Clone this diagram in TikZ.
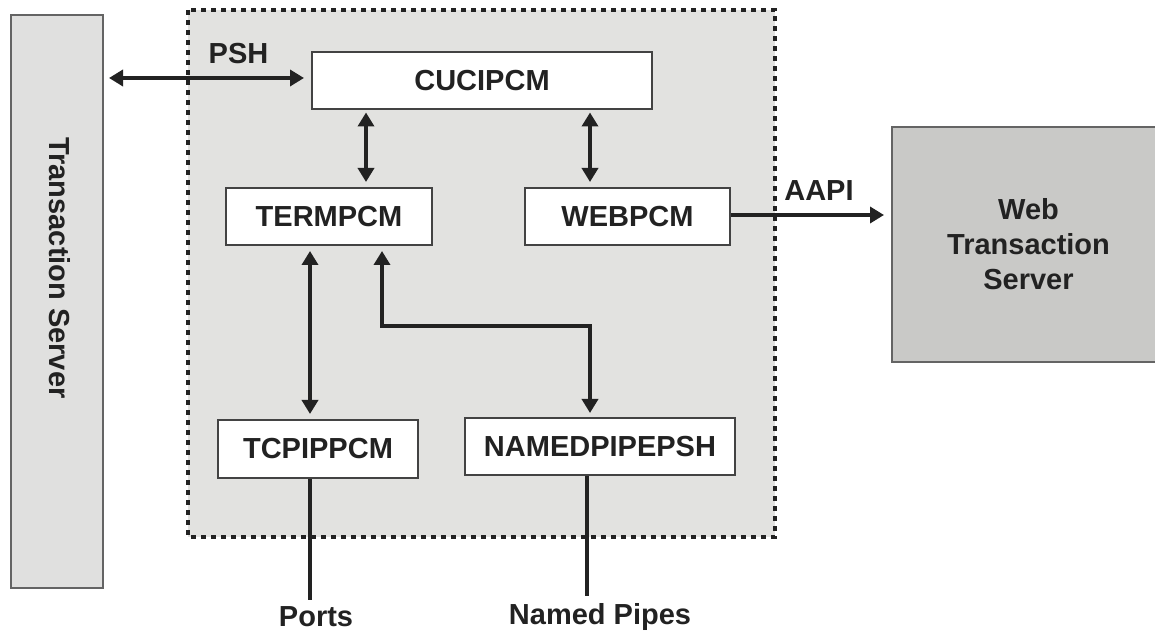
\documentclass[tikz,border=0pt]{standalone}
\usepackage{fontspec}
\setmainfont{Liberation Sans}
\usepackage{xcolor}
\usepackage{tikz}
\usetikzlibrary{positioning, arrows.meta, calc}
\definecolor{panel}{HTML}{E2E2E0}
\definecolor{server}{HTML}{E0E0DF}
\definecolor{webserver}{HTML}{C9C9C7}
\definecolor{ink}{HTML}{222222}

\begin{document}
\begin{tikzpicture}[x=0.5pt,y=-0.5pt,
  font=\bfseries\fontsize{14.5}{17.5}\selectfont, text=ink,
  module/.style={draw=ink!85,line width=1pt,fill=white,minimum height=28.5pt,
                 inner sep=0pt},
  host/.style={draw=ink!70,line width=1pt,align=center,inner sep=0pt},
  link/.style={ink,line width=2pt},
  dbl/.style={link,{Triangle[length=7pt,width=8pt]}-{Triangle[length=7pt,width=8pt]}},
  one/.style={link,-{Triangle[length=7pt,width=8pt]}}]
  \useasboundingbox (0,0) rectangle (1155,635);
  % dotted container of the modules
  \draw[fill=panel,draw=ink,line width=1.6pt,dash pattern=on 2.4pt off 2.6pt]
    (188,10) rectangle (775,537);
  % servers
  \node[host,fill=server,minimum width=46pt,minimum height=286.5pt] (ts)
    at (57,301.5) {};
  \node[rotate=-90] (tslabel) at (60,268) {Transaction Server};
  \node[host,fill=webserver,minimum width=136.5pt,minimum height=117.5pt] (wts)
    at (1028.5,244.5) {Web\\Transaction\\Server};
  % modules
  \node[module,minimum width=170pt] (cuci) at (482,81) {CUCIPCM};
  \node[module,minimum width=103pt] (term) at (329,216.5) {TERMPCM};
  \node[module,minimum width=102.5pt] (web) at (627.5,216.5) {WEBPCM};
  \node[module,minimum width=100pt,minimum height=29pt] (tcp) at (318,449) {TCPIPPCM};
  \node[module,minimum width=135pt] (npipe) at (600,446.5) {NAMEDPIPEPSH};
  \node (ports) at (316,617) {Ports};
  \node (pipes) at (600,617) {Named Pipes};
  % connectors
  \draw[dbl,shorten <=2.5pt,shorten >=3.5pt] (ts.east |- 0,78) -- (cuci.west |- 0,78)
    node[pos=0.65,above=3pt] {PSH};
  \draw[dbl,shorten <=1pt,shorten >=2.5pt] ([xshift=18.5pt]term.north |- cuci.south)
    -- ([xshift=18.5pt]term.north);
  \draw[dbl,shorten <=1pt,shorten >=2.5pt] ([xshift=-18.75pt]web.north |- cuci.south)
    -- ([xshift=-18.75pt]web.north);
  \draw[dbl,shorten <=2.5pt,shorten >=2.5pt] ([xshift=-9.5pt]term.south)
    -- ([xshift=-9.5pt]term.south |- tcp.north);
  \draw[dbl,shorten <=2.5pt,shorten >=2pt] ([xshift=26.5pt]term.south)
    -- ++(0,80) -| ([xshift=-5pt]npipe.north);
  \draw[one,shorten >=3.5pt] (web.east |- 0,215) -- (wts.west |- 0,215)
    node[pos=0.55,above=3pt] {AAPI};
  \draw[link] ([xshift=-4pt]tcp.south) -- ([xshift=-4pt]tcp.south |- ports.north);
  \draw[link] ([xshift=-6.5pt]npipe.south) -- ([xshift=-6.5pt]npipe.south |- pipes.north);
\end{tikzpicture}
\end{document}
